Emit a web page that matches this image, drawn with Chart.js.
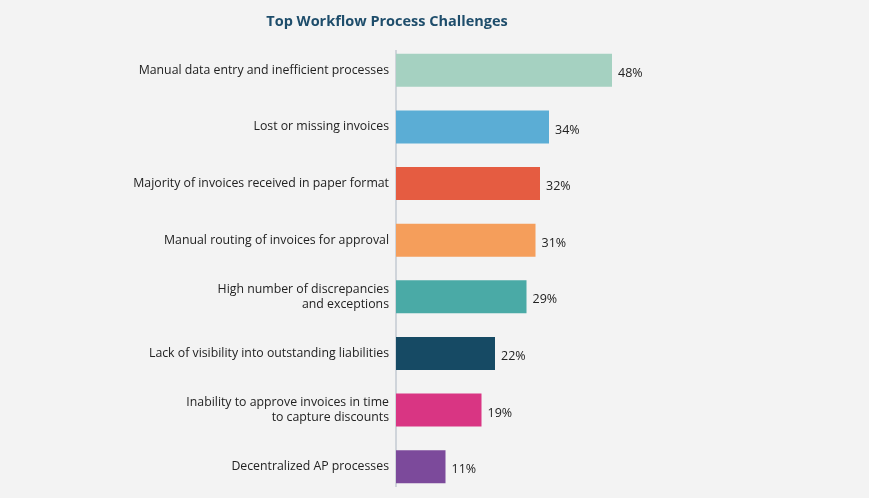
<!DOCTYPE html>
<html>
<head>
<meta charset="utf-8">
<script src="https://cdn.jsdelivr.net/npm/chart.js@4.4.0/dist/chart.umd.min.js"></script>
<style>
  html, body { margin: 0; padding: 0; background: #f3f3f3; }
  #wrap { width: 869px; height: 498px; position: relative; }
</style>
</head>
<body>
<div id="wrap"><canvas id="c"></canvas></div>
<script>
const titleText = "Top Workflow Process Challenges";
const categories = [
  "Manual data entry and inefficient processes",
  "Lost or missing invoices",
  "Majority of invoices received in paper format",
  "Manual routing of invoices for approval",
  ["High number of discrepancies", "and exceptions"],
  "Lack of visibility into outstanding liabilities",
  ["Inability to approve invoices in time", "to capture discounts"],
  "Decentralized AP processes"
];
const values = [48, 34, 32, 31, 29, 22, 19, 11];
const barColors = ["#a5d1c1", "#5badd5", "#e55c41", "#f59e5b", "#4aaaa6", "#164a64", "#d93583", "#7c4a9b"];

const valueLabels = {
  id: 'valueLabels',
  afterDatasetsDraw(chart) {
    const ctx = chart.ctx;
    const meta = chart.getDatasetMeta(0);
    ctx.save();
    ctx.font = '12.5px "Open Sans", sans-serif';
    ctx.fillStyle = '#222';
    ctx.textAlign = 'left';
    ctx.textBaseline = 'middle';
    meta.data.forEach((bar, i) => {
      ctx.fillText(values[i] + '%', bar.x + 6, bar.y + 3);
    });
    ctx.restore();
  }
};

const axisLine = {
  id: 'axisLine',
  beforeDatasetsDraw(chart) {
    const ctx = chart.ctx;
    const a = chart.chartArea;
    const x = chart.scales.x.getPixelForValue(0);
    ctx.save();
    ctx.strokeStyle = '#c3cad2';
    ctx.lineWidth = 1.5;
    ctx.beginPath();
    ctx.moveTo(x, a.top + 8);
    ctx.lineTo(x, a.bottom - 8);
    ctx.stroke();
    ctx.restore();
  }
};

new Chart(document.getElementById('c'), {
  type: 'bar',
  data: {
    labels: categories,
    datasets: [{
      data: values,
      backgroundColor: barColors,
      borderWidth: 0,
      categoryPercentage: 1.0,
      barPercentage: 0.583
    }]
  },
  options: {
    indexAxis: 'y',
    responsive: true,
    maintainAspectRatio: false,
    animation: false,
    layout: { padding: { left: 0, right: 95, top: 0, bottom: 3 } },
    plugins: {
      legend: { display: false },
      tooltip: { enabled: false },
      title: {
        display: true,
        text: titleText,
        color: '#1e4d6b',
        font: { family: '"Open Sans", sans-serif', size: 14.5, weight: 'bold' },
        padding: { top: 13, bottom: 11.6 }
      }
    },
    scales: {
      x: { display: false, min: 0, max: 84 },
      y: {
        grid: { display: false, drawTicks: false },
        border: { display: false },
        afterFit(scale) {
          scale.width = 396;
          scale.paddingTop = 0;
          scale.paddingBottom = 0;
        },
        ticks: {
          color: '#222',
          padding: 7,
          font: { family: '"Open Sans", sans-serif', size: 12.3 }
        }
      }
    }
  },
  plugins: [axisLine, valueLabels]
});
</script>
</body>
</html>
